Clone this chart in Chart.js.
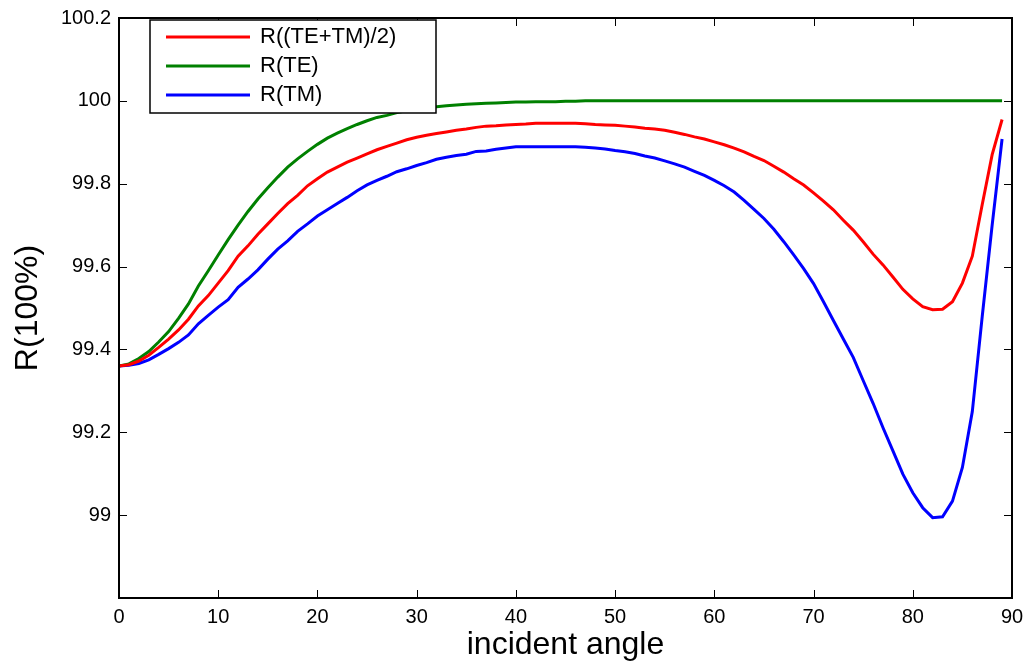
<!DOCTYPE html>
<html>
<head>
<meta charset="utf-8">
<script src="https://cdn.jsdelivr.net/npm/chart.js@4"></script>
<style>
  html, body { margin: 0; padding: 0; background: #fff; }
  #wrap { width: 1024px; height: 664px; }
</style>
</head>
<body>
<div id="wrap"><canvas id="chart" width="1024" height="664"></canvas></div>
<script>
// incident angle 0..89 (deg)
const angles = Array.from({ length: 90 }, (_, i) => i);

// R((TE+TM)/2)
const rAvg = [
  99.360, 99.363, 99.372, 99.386, 99.405, 99.425, 99.447, 99.473, 99.505, 99.530,
  99.560, 99.590, 99.625, 99.650, 99.678, 99.703, 99.728, 99.752, 99.772, 99.795,
  99.812, 99.828, 99.840, 99.852, 99.862, 99.872, 99.882, 99.890, 99.898, 99.906,
  99.912, 99.917, 99.921, 99.925, 99.929, 99.932, 99.936, 99.939, 99.940, 99.942,
  99.943, 99.944, 99.946, 99.946, 99.946, 99.946, 99.946, 99.945, 99.943, 99.942,
  99.941, 99.939, 99.937, 99.934, 99.932, 99.929, 99.924, 99.919, 99.913, 99.908,
  99.901, 99.894, 99.886, 99.877, 99.866, 99.856, 99.842, 99.828, 99.812, 99.797,
  99.778, 99.758, 99.737, 99.712, 99.688, 99.660, 99.630, 99.604, 99.575, 99.545,
  99.522, 99.503, 99.496, 99.497, 99.515, 99.560, 99.625, 99.750, 99.870, 99.955
];

// R(TE)
const rTE = [
  99.360, 99.365, 99.378, 99.395, 99.418, 99.443, 99.475, 99.510, 99.553, 99.590,
  99.628, 99.665, 99.700, 99.733, 99.763, 99.790, 99.816, 99.840, 99.860, 99.878,
  99.895, 99.910, 99.922, 99.933, 99.943, 99.952, 99.960, 99.965, 99.972, 99.976,
  99.980, 99.984, 99.986, 99.988, 99.990, 99.992, 99.993, 99.994, 99.995, 99.996,
  99.997, 99.997, 99.998, 99.998, 99.998, 99.999, 99.999, 100, 100, 100,
  100, 100, 100, 100, 100, 100, 100, 100, 100, 100,
  100, 100, 100, 100, 100, 100, 100, 100, 100, 100,
  100, 100, 100, 100, 100, 100, 100, 100, 100, 100,
  100, 100, 100, 100, 100, 100, 100, 100, 100, 100
];

// R(TM)
const rTM = [
  99.360, 99.362, 99.366, 99.375, 99.388, 99.402, 99.417, 99.435, 99.462, 99.482,
  99.502, 99.520, 99.550, 99.570, 99.592, 99.618, 99.642, 99.662, 99.685, 99.703,
  99.722, 99.737, 99.752, 99.767, 99.783, 99.797, 99.808, 99.818, 99.829, 99.836,
  99.844, 99.851, 99.859, 99.864, 99.868, 99.871, 99.878, 99.879, 99.883, 99.886,
  99.889, 99.889, 99.889, 99.889, 99.889, 99.889, 99.889, 99.888, 99.886, 99.884,
  99.880, 99.877, 99.873, 99.867, 99.862, 99.855, 99.848, 99.840, 99.830, 99.820,
  99.808, 99.795, 99.780, 99.760, 99.738, 99.716, 99.690, 99.660, 99.628, 99.595,
  99.559, 99.515, 99.470, 99.425, 99.381, 99.325, 99.270, 99.211, 99.155, 99.099,
  99.054, 99.018, 98.994, 98.996, 99.034, 99.115, 99.250, 99.480, 99.700, 99.908
];

const seriesNames = ["R((TE+TM)/2)", "R(TE)", "R(TM)"];
const seriesColors = ["#ff0000", "#008000", "#0000ff"];

const xTicks = [0, 10, 20, 30, 40, 50, 60, 70, 80, 90];
const yTicks = [98.8, 99, 99.2, 99.4, 99.6, 99.8, 100, 100.2];

const FONT = "'Liberation Sans', Arial, sans-serif";

function toPoints(values) {
  return values.map((v, i) => ({ x: angles[i], y: v }));
}

// MATLAB-style box, inward ticks and legend
const matlabBox = {
  id: "matlabBox",
  afterDatasetsDraw(chart) {
    const { ctx, chartArea: a, scales } = chart;
    const tl = 8;
    ctx.save();
    ctx.strokeStyle = "#000";
    ctx.lineWidth = 1;
    xTicks.forEach((t) => {
      const px = Math.round(scales.x.getPixelForValue(t)) + 0.5;
      ctx.beginPath();
      ctx.moveTo(px, a.bottom);
      ctx.lineTo(px, a.bottom - tl);
      ctx.moveTo(px, a.top);
      ctx.lineTo(px, a.top + tl);
      ctx.stroke();
    });
    yTicks.forEach((t) => {
      const py = Math.round(scales.y.getPixelForValue(t)) + 0.5;
      ctx.beginPath();
      ctx.moveTo(a.left, py);
      ctx.lineTo(a.left + tl, py);
      ctx.moveTo(a.right, py);
      ctx.lineTo(a.right - tl, py);
      ctx.stroke();
    });
    ctx.lineWidth = 2;
    ctx.strokeRect(a.left, a.top, a.right - a.left, a.bottom - a.top);

    // legend
    const lx = a.left + 31, ly = a.top + 2, lw = 286, lh = 93;
    ctx.fillStyle = "#fff";
    ctx.fillRect(lx, ly, lw, lh);
    ctx.lineWidth = 1.5;
    ctx.strokeRect(lx, ly, lw, lh);
    ctx.font = "22px " + FONT;
    ctx.textBaseline = "middle";
    chart.data.datasets.forEach((ds, i) => {
      const ry = ly + 17 + i * 29;
      ctx.strokeStyle = ds.borderColor;
      ctx.lineWidth = 3;
      ctx.beginPath();
      ctx.moveTo(lx + 16, ry);
      ctx.lineTo(lx + 100, ry);
      ctx.stroke();
      ctx.fillStyle = "#000";
      ctx.fillText(ds.label, lx + 110, ry);
    });
    ctx.restore();
  },
};

new Chart(document.getElementById("chart").getContext("2d"), {
  type: "line",
  data: {
    datasets: [rAvg, rTE, rTM].map((vals, i) => ({
      label: seriesNames[i],
      data: toPoints(vals),
      borderColor: seriesColors[i],
      backgroundColor: seriesColors[i],
      borderWidth: 3,
      pointRadius: 0,
      tension: 0,
      fill: false,
    })),
  },
  options: {
    responsive: false,
    animation: false,
    layout: { padding: { top: 18, right: 12, left: 0, bottom: 0 } },
    plugins: {
      legend: { display: false },
      tooltip: { enabled: false },
    },
    scales: {
      x: {
        type: "linear",
        min: 0,
        max: 90,
        afterBuildTicks: (s) => { s.ticks = xTicks.map((v) => ({ value: v })); },
        afterFit: (s) => { s.height = 66; },
        grid: { display: false },
        border: { display: false },
        ticks: { color: "#000", padding: -1, font: { family: FONT, size: 20 } },
        title: {
          display: true,
          text: "incident angle",
          color: "#000",
          padding: 0,
          font: { family: FONT, size: 32 },
        },
      },
      y: {
        type: "linear",
        min: 98.8,
        max: 100.2,
        afterBuildTicks: (s) => { s.ticks = yTicks.map((v) => ({ value: v })); },
        afterFit: (s) => { s.width = 119; },
        grid: { display: false },
        border: { display: false },
        ticks: {
          color: "#000",
          padding: 0,
          font: { family: FONT, size: 20 },
          callback: (v) => (Math.abs(v - 98.8) < 1e-6 ? "" : String(Math.round(v * 10) / 10)),
        },
        title: {
          display: true,
          text: "R(100%)",
          color: "#000",
          padding: { top: 9, bottom: 0 },
          font: { family: FONT, size: 32 },
        },
      },
    },
  },
  plugins: [matlabBox],
});
</script>
</body>
</html>
